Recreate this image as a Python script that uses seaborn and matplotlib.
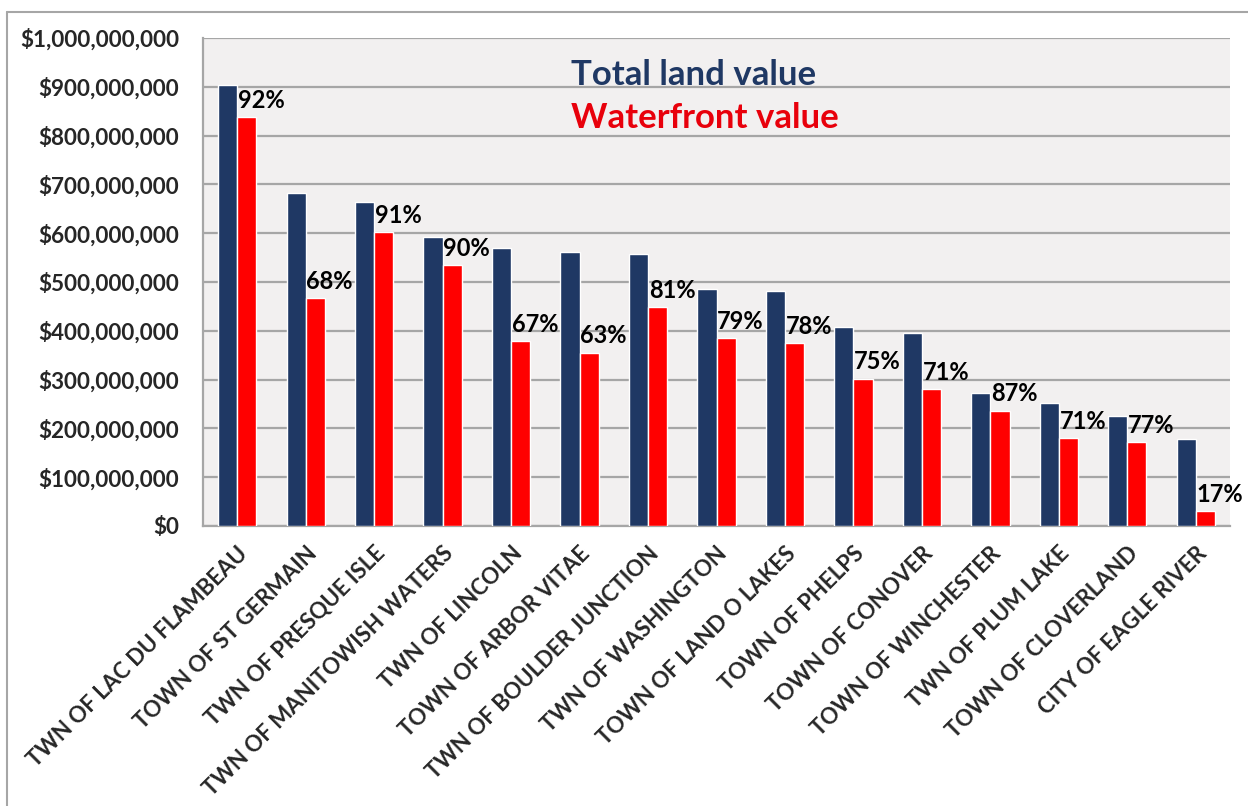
import pandas as pd
import numpy as np
import matplotlib
matplotlib.use("Agg")
from matplotlib import pyplot as plt
from matplotlib.ticker import FuncFormatter, FixedLocator
from matplotlib.lines import Line2D
import seaborn as sns

# data
towns = ["TWN OF LAC DU FLAMBEAU", "TOWN OF ST GERMAIN", "TWN OF PRESQUE ISLE",
         "TWN OF MANITOWISH WATERS", "TWN OF LINCOLN", "TOWN OF ARBOR VITAE",
         "TWN OF BOULDER JUNCTION", "TWN OF WASHINGTON", "TOWN OF LAND O LAKES",
         "TOWN OF PHELPS", "TOWN OF CONOVER", "TOWN OF WINCHESTER",
         "TWN OF PLUM LAKE", "TOWN OF CLOVERLAND", "CITY OF EAGLE RIVER"]
total_value = [904e6, 682e6, 664e6, 592e6, 570e6, 561e6, 557e6, 486e6, 482e6,
               408e6, 395e6, 273e6, 252e6, 225e6, 178e6]
waterfront_value = [838e6, 467e6, 602e6, 535e6, 379e6, 355e6, 449e6, 385e6, 375e6,
                    302e6, 280e6, 236e6, 180e6, 172e6, 31e6]
pct_labels = ["92%", "68%", "91%", "90%", "67%", "63%", "81%", "79%", "78%",
              "75%", "71%", "87%", "71%", "77%", "17%"]

NAVY = "#1f3864"
RED = "#ff0000"

df = pd.DataFrame({
    "town": towns * 2,
    "value": total_value + waterfront_value,
    "series": ["Total land value"] * len(towns) + ["Waterfront value"] * len(towns),
})

sns.set_style("white")
plt.rcParams["font.family"] = ["Lato", "DejaVu Sans"]
plt.rcParams["font.weight"] = "bold"

fig = plt.figure(figsize=(12.48, 8.06), dpi=100)
ax = fig.add_axes([203 / 1248, 1 - 526 / 806, (1230 - 203) / 1248, (526 - 38) / 806])

sns.barplot(data=df, x="town", y="value", hue="series",
            palette={"Total land value": NAVY, "Waterfront value": RED},
            width=0.56, gap=0, saturation=1, legend=False, ax=ax, zorder=3)

ax.set_facecolor("#f2f0f0")
ax.set_ylim(0, 1e9)
ax.set_xlim(-0.5, len(towns) - 0.5)
ax.set_yticks(np.arange(0, 1.01e9, 1e8))
ax.yaxis.set_major_formatter(FuncFormatter(lambda v, p: "${:,.0f}".format(v)))
ax.grid(axis="y", color="#a6a6a6", linewidth=1.6, zorder=0)
ax.set_axisbelow(True)
ax.set_xlabel("")
ax.set_ylabel("")

for s in ["top", "right"]:
    ax.spines[s].set_visible(False)
for s in ["left", "bottom"]:
    ax.spines[s].set_color("#a6a6a6")
    ax.spines[s].set_linewidth(1.6)

ax.tick_params(axis="y", direction="out", length=8, color="#a6a6a6", width=1.4,
               labelsize=16.2, pad=9)
ax.tick_params(axis="x", which="major", length=0, labelsize=16, pad=12)
ax.xaxis.set_minor_locator(FixedLocator(np.arange(-0.5, len(towns), 1)))
ax.tick_params(axis="x", which="minor", direction="out", length=8, color="#a6a6a6", width=1.4)
for lbl in ax.get_yticklabels():
    lbl.set_fontweight("bold")
for lbl in ax.get_xticklabels():
    lbl.set_rotation(45)
    lbl.set_ha("right")
    lbl.set_rotation_mode("anchor")
    lbl.set_fontweight("bold")

# percentage labels above waterfront bars
wf_bars = ax.containers[1]
for bar, txt in zip(wf_bars, pct_labels):
    ax.text(bar.get_x() + 0.01, bar.get_height() + 1.1e7, txt, ha="left", va="bottom",
            fontsize=17, fontweight="bold", color="black", zorder=4)

# in-chart legend text
fig.text(571 / 1248, 1 - 85 / 806, "Total land value", color=NAVY, fontsize=25,
         fontweight="bold", ha="left", va="baseline")
fig.text(571 / 1248, 1 - 128 / 806, "Waterfront value", color="#e8000b", fontsize=25,
         fontweight="bold", ha="left", va="baseline")

# outer chart border
fig.add_artist(Line2D([7 / 1248, 7 / 1248], [0, 1 - 12 / 806], color="#a6a6a6",
                      linewidth=1.5, transform=fig.transFigure))
fig.add_artist(Line2D([7 / 1248, 1], [1 - 12 / 806, 1 - 12 / 806], color="#a6a6a6",
                      linewidth=1.5, transform=fig.transFigure))

fig.savefig("out.png", dpi=100, facecolor="white")
